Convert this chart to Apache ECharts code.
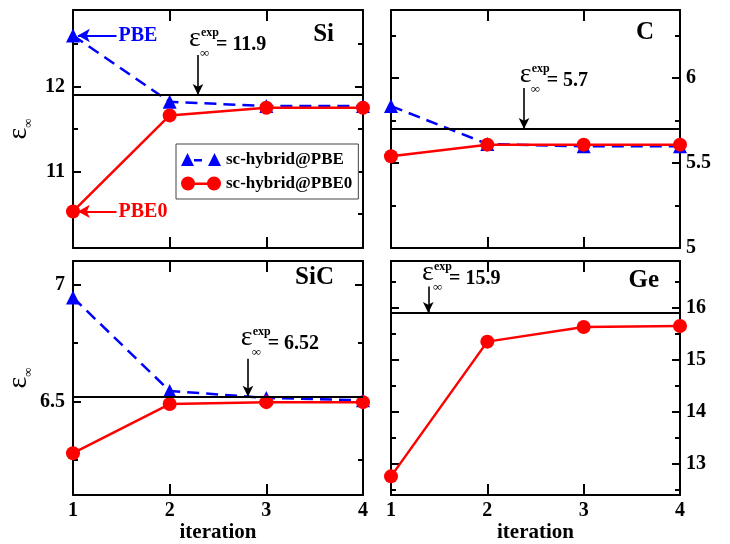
<!DOCTYPE html>
<html><head><meta charset="utf-8">
<script src="https://cdn.jsdelivr.net/npm/echarts@6/dist/echarts.min.js"></script>
<style>html,body{margin:0;padding:0;background:#fff}#c{width:730px;height:544px}</style>
</head><body><div id="c"></div>
<script>
// ---- data ----
const iterations = [1, 2, 3, 4];
const siPBE   = [12.60, 11.82, 11.77, 11.77];
const siPBE0  = [10.53, 11.66, 11.75, 11.75];
const cPBE    = [5.835, 5.612, 5.598, 5.598];
const cPBE0   = [5.540, 5.608, 5.608, 5.608];
const sicPBE  = [6.944, 6.545, 6.515, 6.505];
const sicPBE0 = [6.279, 6.489, 6.497, 6.497];
const gePBE0  = [12.76, 15.35, 15.63, 15.65];
const expValues = [11.9, 5.7, 6.52, 15.9];
const expLabels = ['11.9', '5.7', '6.52', '15.9'];
const panelNames = ['Si', 'C', 'SiC', 'Ge'];
const seriesNames = ['sc-hybrid@PBE', 'sc-hybrid@PBE0'];
const yMin = [10.1, 5, 6.1, 12.4];
const yMax = [12.9, 6.4, 7.1, 16.9];
const yMajor = [[11, 12], [5, 5.5, 6], [6.5, 7], [13, 14, 15, 16]];
const yMinor = [[10.5, 11.5, 12.5], [5.25, 5.75, 6.25], [6.25, 6.75], [12.5, 13.5, 14.5, 15.5, 16.5]];
const pbeSeries  = [siPBE, cPBE, sicPBE, null];
const pbe0Series = [siPBE0, cPBE0, sicPBE0, gePBE0];

// ---- annotation anchors (data coords) ----
const arrowX   = [2.293, 2.381, 2.81, 1.387];
const arrowTop = [12.37, 5.941, 6.682, 16.41];
const textX    = [2.20, 2.336, 2.735, 1.322];
const textY    = [12.5, 5.988, 6.75, 16.58];

const FONT = 'Liberation Serif';
const grids = [
  {left: 73, top: 10, width: 290, height: 238},
  {left: 391, top: 10, width: 289, height: 238},
  {left: 73, top: 261, width: 290, height: 237},
  {left: 391, top: 261, width: 289, height: 237}
];

function xAx(g, pos) {
  const labelled = pos === 'bottom' && g >= 2;
  return {
    type: 'value', gridIndex: g, position: pos, min: 1, max: 4, interval: 1,
    axisLine: {onZero: false, lineStyle: {color: '#000', width: 2}},
    axisTick: {inside: true, length: 11, lineStyle: {color: '#000', width: 2}},
    axisLabel: {show: labelled, margin: 6, showMinLabel: true, showMaxLabel: true,
      color: '#000', fontFamily: FONT, fontWeight: 'bold', fontSize: 20},
    splitLine: {show: false},
    name: labelled ? 'iteration' : '', nameLocation: 'middle', nameGap: 25,
    nameTextStyle: {color: '#000', fontFamily: FONT, fontWeight: 'bold', fontSize: 21}
  };
}
function yAx(g, side, minor) {
  const labelled = !minor && ((g % 2 === 0 && side === 'left') || (g % 2 === 1 && side === 'right'));
  const named = labelled && side === 'left';
  return {
    type: 'value', gridIndex: g, position: side, min: yMin[g], max: yMax[g],
    axisLine: {show: !minor, onZero: false, lineStyle: {color: '#000', width: 2}},
    axisTick: {show: true, inside: true, length: minor ? 5 : 8,
      lineStyle: {color: '#000', width: 2}, customValues: minor ? yMinor[g] : yMajor[g]},
    axisLabel: {show: labelled, customValues: yMajor[g], margin: side === 'left' ? 8 : 6,
      color: '#000', fontFamily: FONT, fontWeight: 'bold', fontSize: 20},
    splitLine: {show: false},
    name: named ? '{e|ε}{s|∞}' : '', nameLocation: 'middle', nameRotate: 90, nameGap: 38,
    nameTextStyle: {color: '#000', fontFamily: FONT, lineHeight: 30,
      rich: {e: {fontSize: 28, fontFamily: FONT, verticalAlign: 'top', color: '#000'},
             s: {fontSize: 13, fontFamily: FONT, verticalAlign: 'bottom', color: '#000'}}}
  };
}

const xAxis = [], yAxis = [], series = [];
for (let g = 0; g < 4; g++) {
  xAxis.push(xAx(g, 'bottom'), xAx(g, 'top'));
  yAxis.push(yAx(g, 'left', false), yAx(g, 'right', false), yAx(g, 'left', true), yAx(g, 'right', true));
  const xi = g * 2, yi = g * 4;
  if (pbeSeries[g]) {
    const s = {
      name: seriesNames[0], type: 'line', xAxisIndex: xi, yAxisIndex: yi, clip: false,
      data: iterations.map((x, i) => [x, pbeSeries[g][i]]),
      symbol: 'triangle', symbolSize: 14,
      lineStyle: {color: '#0000ff', width: 2.5, type: [12, 7]},
      itemStyle: {color: '#0000ff', borderWidth: 0}, z: 3
    };
    if (g === 0) {
      s.markLine = {silent: true, animation: false, symbol: ['none', 'none'],
        data: [[{coord: [1.45, siPBE[0]]}, {coord: [1.05, siPBE[0]], symbol: 'arrow', symbolSize: [10, 12]}]],
        lineStyle: {color: '#0000ff', width: 2, type: 'solid'},
        label: {show: true, position: 'start', distance: 2, formatter: 'PBE', color: '#0000ff',
          fontFamily: FONT, fontWeight: 'bold', fontSize: 20}};
    }
    series.push(s);
  }
  const r = {
    name: seriesNames[1], type: 'line', xAxisIndex: xi, yAxisIndex: yi, clip: false,
    data: iterations.map((x, i) => [x, pbe0Series[g][i]]),
    symbol: 'circle', symbolSize: 14,
    lineStyle: {color: '#ff0000', width: 2.5},
    itemStyle: {color: '#ff0000', borderWidth: 0}, z: 4,
    markLine: {silent: true, animation: false, symbol: ['none', 'none'], label: {show: false},
      lineStyle: {color: '#000', width: 2, type: 'solid'},
      data: [
        {yAxis: expValues[g], lineStyle: {color: '#000', width: 2.2, type: 'solid'}},
        [{coord: [arrowX[g], arrowTop[g]], lineStyle: {color: '#000', width: 1.6, type: 'solid'}},
         {coord: [arrowX[g], expValues[g]], symbol: 'arrow', symbolSize: [8, 11]}]
      ]}
  };
  series.push(r);
  if (g === 0) {
    series.push({
      name: seriesNames[1], type: 'line', xAxisIndex: xi, yAxisIndex: yi, data: [], symbol: 'none',
      itemStyle: {color: '#ff0000'},
      markLine: {silent: true, animation: false, symbol: ['none', 'none'],
        data: [[{coord: [1.45, siPBE0[0]]}, {coord: [1.05, siPBE0[0]], symbol: 'arrow', symbolSize: [10, 12]}]],
        lineStyle: {color: '#ff0000', width: 2, type: 'solid'},
        label: {show: true, position: 'start', distance: 2, formatter: 'PBE0', color: '#ff0000',
          fontFamily: FONT, fontWeight: 'bold', fontSize: 20}}
    });
  }
}

const triPath = 'path://M0,14 L6.5,1 L13,14 Z M13,7 L21,7 L21,9.5 L13,9.5 Z M27,14 L33.5,1 L40,14 Z';
const circPath = 'path://M0,7 A7,7 0 1,1 14,7 A7,7 0 1,1 0,7 Z M13,6 L27,6 L27,8.5 L13,8.5 Z M26,7 A7,7 0 1,1 40,7 A7,7 0 1,1 26,7 Z';

const chart = echarts.init(document.getElementById('c'), null, {renderer: 'canvas'});
chart.setOption({
  animation: false,
  backgroundColor: '#fff',
  grid: grids,
  xAxis, yAxis, series,
  legend: {
    left: 176, top: 144, orient: 'vertical', padding: [7, 6, 7, 5], itemGap: 7,
    itemWidth: 40, itemHeight: 14, borderColor: '#444', borderWidth: 1, backgroundColor: '#fff',
    selectedMode: false, itemStyle: {borderWidth: 0},
    textStyle: {fontFamily: FONT, fontWeight: 'bold', fontSize: 17, color: '#000'},
    data: [{name: seriesNames[0], icon: triPath}, {name: seriesNames[1], icon: circPath}]
  }
});

// panel titles and exp annotations
const graphic = [];
const titleRight = [334, 654, 334, 659];
const titleTop = [22, 20, 265, 268];
for (let g = 0; g < 4; g++) {
  graphic.push({type: 'text', x: titleRight[g], y: titleTop[g], z: 10,
    style: {text: panelNames[g], align: 'right', verticalAlign: 'top', fill: '#000',
      font: 'bold 25px "Liberation Serif"'}});
  const p = chart.convertToPixel({xAxisIndex: g * 2, yAxisIndex: g * 4}, [textX[g], textY[g]]);
  graphic.push({type: 'text', x: p[0], y: p[1] - 5, z: 10,
    style: {text: 'ε', align: 'left', verticalAlign: 'middle', fill: '#000', font: '28px "Liberation Serif"'}});
  graphic.push({type: 'text', x: p[0] + 12, y: p[1] - 11, z: 10,
    style: {text: 'exp', align: 'left', verticalAlign: 'middle', fill: '#000', font: 'bold 12px "Liberation Serif"'}});
  graphic.push({type: 'text', x: p[0] + 11, y: p[1] + 10, z: 10,
    style: {text: '∞', align: 'left', verticalAlign: 'middle', fill: '#000', font: '13px "Liberation Serif"'}});
  graphic.push({type: 'text', x: p[0] + 27, y: p[1] + 1, z: 10,
    style: {text: '= ' + expLabels[g], align: 'left', verticalAlign: 'middle', fill: '#000', font: 'bold 20px "Liberation Serif"'}});
}
chart.setOption({graphic});
</script>
</body></html>
